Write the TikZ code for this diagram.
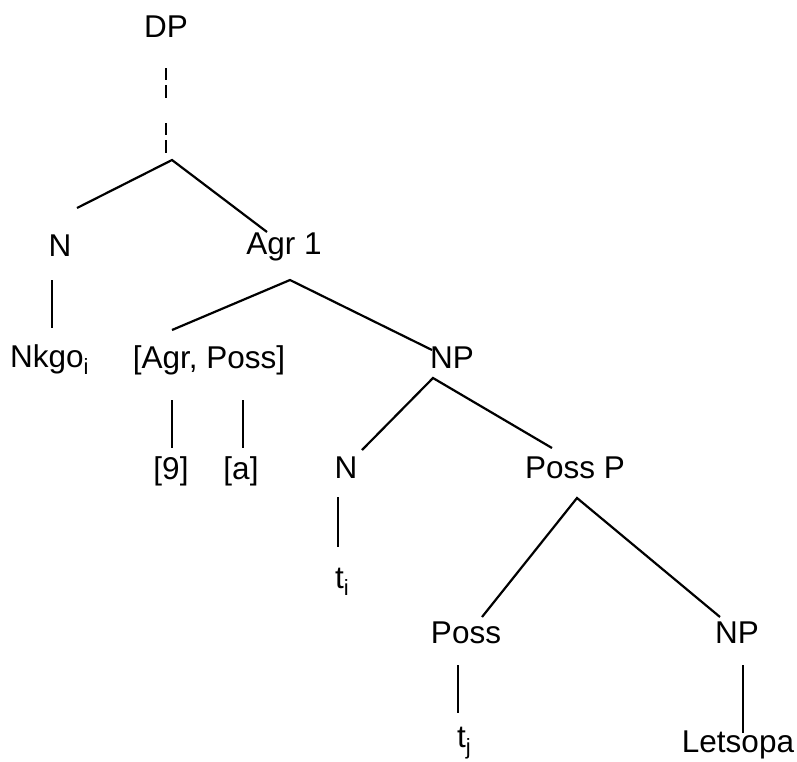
\documentclass[tikz,border=0pt]{standalone}
\usepackage{fontspec}
\setmainfont{Liberation Sans}
\usetikzlibrary{positioning,calc}

\begin{document}
\begin{tikzpicture}[
    x=1pt, y=-1pt,
    label/.style={inner sep=0pt, anchor=base, font=\fontsize{31.5}{38}\selectfont},
    branch/.style={line width=2.2pt},
    dashbranch/.style={line width=2.2pt, dash pattern=on 12pt off 5pt on 13pt off 25pt}
]
\useasboundingbox (0,0) rectangle (797,761);

% Labels
\node[label] (dp) at (166,37) {DP};
\node[label] (n1) at (60,256) {N};
\node[label] (agr) at (284,254) {Agr 1};
\node[label, anchor=base west] (nkgo) at (10,367) {Nkgo\textsubscript{i}};
\node[label] (agrposs) at (209,368) {[Agr, Poss]};
\node[label] (np1) at (452,368) {NP};
\node[label] (nine) at (171,479) {[9]};
\node[label] (a) at (241,479) {[a]};
\node[label] (n2) at (346,478) {N};
\node[label, anchor=base west] (ti) at (335,588) {t\textsubscript{i}};
\node[label] (possp) at (575,478) {Poss P};
\node[label] (poss) at (466,643) {Poss};
\node[label] (np2) at (737,643) {NP};
\node[label, anchor=base west] (tj) at (457,747) {t\textsubscript{j}};
\node[label] (letsopa) at (738,752) {Letsopa};

% Branch points
\coordinate (dp-b) at (166,68);
\coordinate (top-b) at (172,160);
\coordinate (agr-b) at (290,280);
\coordinate (np1-b) at (433,378);
\coordinate (possp-b) at (577,498);

% Branch ends
\coordinate (n1-t) at (77,208);
\coordinate (agr-t) at (267,232);
\coordinate (n1-b) at (52,280);
\coordinate (nkgo-t) at (52,328);
\coordinate (agrposs-t) at (172,330);
\coordinate (np1-t) at (432,350);
\coordinate (nine-b) at (172,400);
\coordinate (nine-t) at (172,448);
\coordinate (a-b) at (243,400);
\coordinate (a-t) at (243,448);
\coordinate (n2-t) at (362,450);
\coordinate (possp-t) at (552,448);
\coordinate (n2-b) at (338,497);
\coordinate (ti-t) at (338,547);
\coordinate (poss-t) at (482,617);
\coordinate (np2-t) at (720,617);
\coordinate (poss-b) at (458,665);
\coordinate (tj-t) at (458,713);
\coordinate (np2-b) at (743,665);
\coordinate (letsopa-t) at (743,733);

% Lines
\draw[dashbranch] (dp-b) -- (166,153);
\draw[branch] (n1-t) -- (top-b) -- (agr-t);
\draw[branch] (n1-b) -- (nkgo-t);
\draw[branch] (agrposs-t) -- (agr-b) -- (np1-t);
\draw[branch] (nine-b) -- (nine-t);
\draw[branch] (a-b) -- (a-t);
\draw[branch] (n2-t) -- (np1-b) -- (possp-t);
\draw[branch] (n2-b) -- (ti-t);
\draw[branch] (poss-t) -- (possp-b) -- (np2-t);
\draw[branch] (poss-b) -- (tj-t);
\draw[branch] (np2-b) -- (letsopa-t);

\end{tikzpicture}
\end{document}
